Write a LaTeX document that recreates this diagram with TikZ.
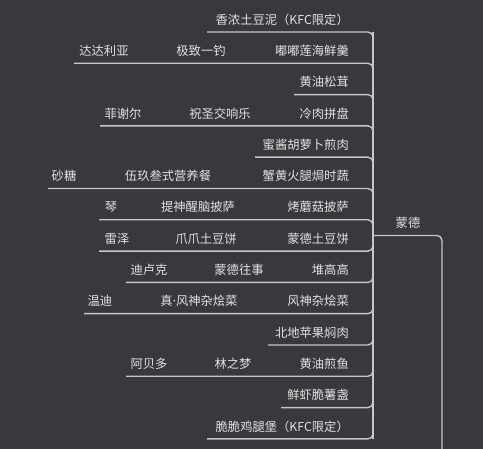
\documentclass[tikz,border=0pt]{standalone}
\usepackage{fontspec}
\newfontfamily\cjk{Noto Sans CJK SC}
\newfontfamily\latinf{Noto Sans}
\definecolor{bg}{RGB}{56,56,61}
\definecolor{ln}{RGB}{198,198,198}
\definecolor{tx}{RGB}{226,226,226}
\begin{document}
\begin{tikzpicture}[x=1pt,y=-1pt,
  lbl/.style={text=tx, font=\cjk\fontsize{12.3}{14}\selectfont, inner sep=0pt},
  rlbl/.style={lbl, anchor=east},
  link/.style={draw=ln, line width=1.4pt, rounded corners=5pt}]
\fill[bg] (0,0) rectangle (483,449);
\useasboundingbox (0,0) rectangle (483,449);
% bar
\coordinate (bar) at (373,0);
\coordinate (bt) at (373,32);
\coordinate (bb) at (373,438.9);
\draw[link] (bt) -- (bb);
% underline starts
\coordinate (s1) at (207,32);
\coordinate (s2) at (74,63.3);
\coordinate (s3) at (294,94.6);
\coordinate (s4) at (100,125.9);
\coordinate (s5) at (255,157.2);
\coordinate (s6) at (48,188.5);
\coordinate (s7) at (99,219.8);
\coordinate (s8) at (99,251.1);
\coordinate (s9) at (126,282.4);
\coordinate (s10) at (84,313.7);
\coordinate (s11) at (268,345);
\coordinate (s12) at (126,376.3);
\coordinate (s13) at (281,407.6);
\coordinate (s14) at (207,438.9);
\foreach \i in {1,...,7}{\draw[link] (s\i) -- (s\i -| bar) -- ++(0,12);}
\foreach \i in {8,...,14}{\draw[link] (s\i) -- (s\i -| bar) -- ++(0,-12);}
% root
\node[lbl] (root) at (408,223) {蒙德};
\coordinate (j) at (373,235.5);
\coordinate (dn) at (442,460);
\draw[link] (j) -- (j -| dn) -- (dn);
% right column
\node[rlbl] (r1) at (349,19.5) {香浓土豆泥（KFC限定）};
\node[rlbl] (r2) at (349,50.8) {嘟嘟莲海鲜羹};
\node[rlbl] (r3) at (349,82.1) {黄油松茸};
\node[rlbl] (r4) at (349,113.4) {冷肉拼盘};
\node[rlbl] (r5) at (349,144.7) {蜜酱胡萝卜煎肉};
\node[rlbl] (r6) at (349,176) {蟹黄火腿焗时蔬};
\node[rlbl] (r7) at (349,207.3) {烤蘑菇披萨};
\node[rlbl] (r8) at (349,238.6) {蒙德土豆饼};
\node[rlbl] (r9) at (349,269.9) {堆高高};
\node[rlbl] (r10) at (349,301.2) {风神杂烩菜};
\node[rlbl] (r11) at (349,332.5) {北地苹果焖肉};
\node[rlbl] (r12) at (349,363.8) {黄油煎鱼};
\node[rlbl] (r13) at (349,395.1) {鲜虾脆薯盏};
\node[rlbl] (r14) at (349,426.4) {脆脆鸡腿堡（KFC限定）};
% middle and left
\node[lbl] (m2) at (201,50.8) {极致一钓};
\node[lbl] (c2) at (104,50.8) {达达利亚};
\node[lbl] (m4) at (220,113.4) {祝圣交响乐};
\node[lbl] (c4) at (123,113.4) {菲谢尔};
\node[lbl] (m6) at (168,176) {伍玖叁式营养餐};
\node[lbl] (c6) at (64,176) {砂糖};
\node[lbl] (m7) at (198,207.3) {提神醒脑披萨};
\node[lbl] (c7) at (111,207.3) {琴};
\node[lbl] (m8) at (206,238.6) {爪爪土豆饼};
\node[lbl] (c8) at (117,238.6) {雷泽};
\node[lbl] (m9) at (239,269.9) {蒙德往事};
\node[lbl] (c9) at (149,269.9) {迪卢克};
\node[lbl] (m10) at (199,301.2) {真{\latinf·}风神杂烩菜};
\node[lbl] (c10) at (100,301.2) {温迪};
\node[lbl] (m12) at (233,363.8) {林之梦};
\node[lbl] (c12) at (149,363.8) {阿贝多};
\end{tikzpicture}
\end{document}
